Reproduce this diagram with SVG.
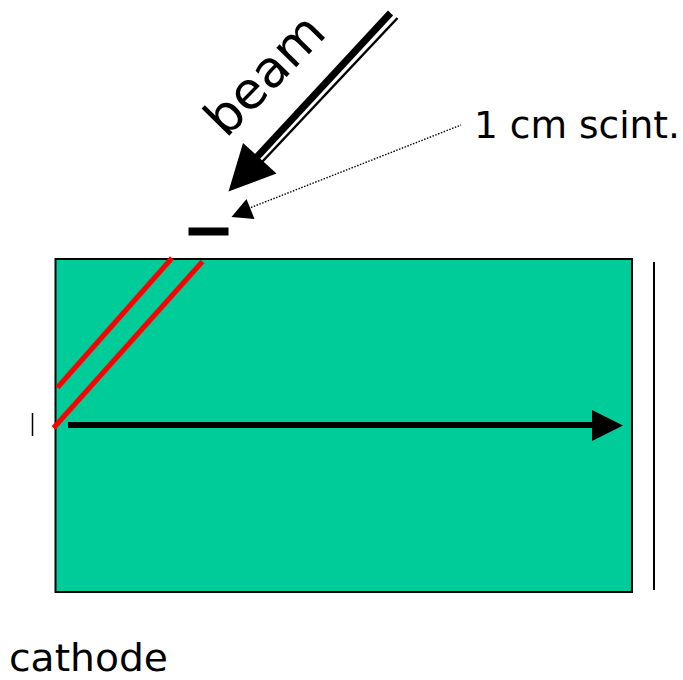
<svg xmlns="http://www.w3.org/2000/svg" width="683" height="680" viewBox="0 0 683 680">
<style>
.t{font-family:"DejaVu Sans","Noto Sans",sans-serif;fill:#000}
.k{fill:#000;stroke:none}
.r{stroke:#f00;stroke-width:5;fill:none}
.b{stroke:#000;fill:none}
</style>
<rect width="683" height="680" fill="#fff"/>
<g id="chamber"><rect x="55.5" y="259" width="576.5" height="333" fill="#00cc99" stroke="#000" stroke-width="2"/></g>
<g id="tracks">
<line class="r" x1="57.5" y1="387.5" x2="172" y2="258"/>
<line class="r" x1="53.5" y1="428" x2="202.5" y2="261.5"/>
</g>
<g id="scintillator"><rect class="k" x="188.5" y="227.5" width="40" height="8"/></g>
<g id="anode"><line class="b" stroke-width="2" x1="654" y1="262" x2="654" y2="590"/></g>
<g id="cathode-tick"><line class="b" stroke-width="1.5" x1="32.5" y1="413" x2="32.5" y2="436"/></g>
<g id="connectors">
<line class="b" stroke-width="7" x1="390.5" y1="13" x2="256" y2="158"/>
<line class="b" stroke-width="2.5" x1="397.5" y1="18" x2="262" y2="162"/>
<polygon class="k" points="228.5,191.5 243,143 276.5,173.5"/>
<line class="b" stroke-width="1.4" stroke-dasharray="1.5 1.5" x1="251" y1="207.5" x2="461" y2="125"/>
<polygon class="k" points="231.5,217 246.5,199 254.5,219"/>
<line class="b" stroke-width="6" x1="68" y1="425" x2="593" y2="425"/>
<polygon class="k" points="592,410 623,425.5 592,441"/>
</g>
<g id="labels">
<text class="t" font-size="51" textLength="146" lengthAdjust="spacingAndGlyphs" transform="translate(226 139) rotate(-45.6)">beam</text>
<text class="t" font-size="37.5" textLength="206" lengthAdjust="spacingAndGlyphs" x="474" y="138">1 cm scint.</text>
<text class="t" font-size="37" textLength="159" lengthAdjust="spacingAndGlyphs" x="9" y="671">cathode</text>
</g>
</svg>
